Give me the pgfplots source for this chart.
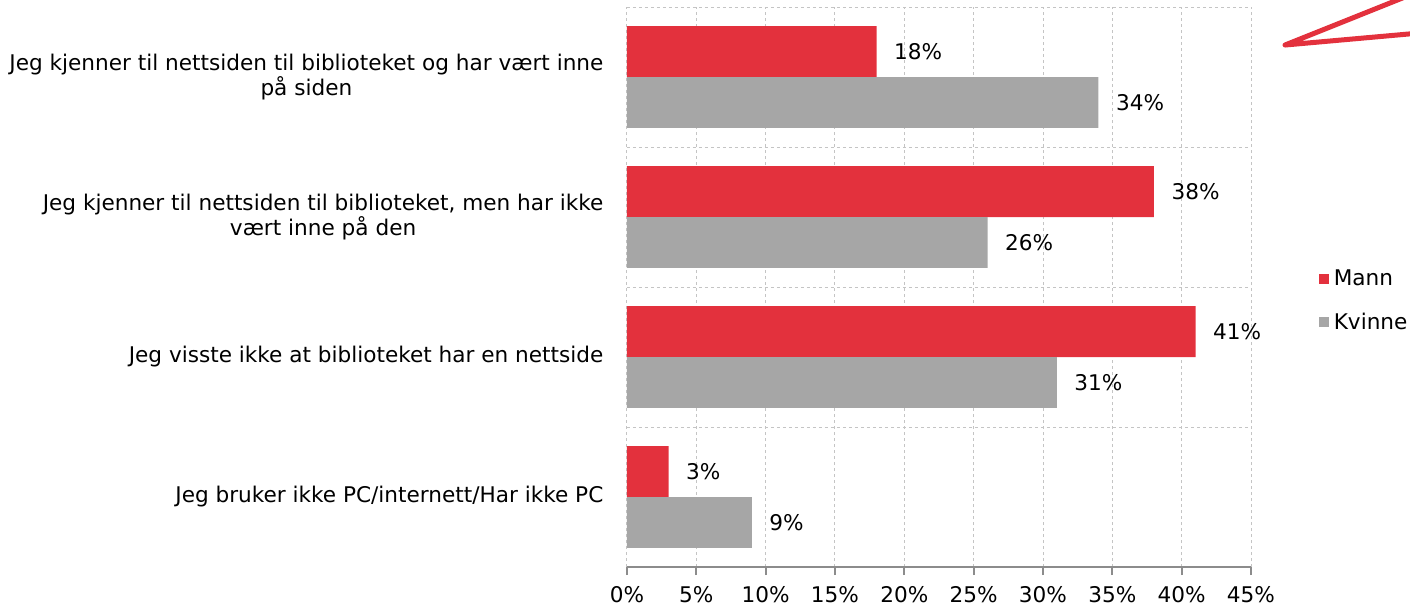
\documentclass[border=0pt]{standalone}
\usepackage{pgfplots}
\pgfplotsset{compat=1.18}
\usepackage{fontspec}
\setmainfont{DejaVu Sans}
\definecolor{mred}{HTML}{E3313D}
\definecolor{mgray}{HTML}{A6A6A6}
\definecolor{gridc}{HTML}{C4C4C4}
\definecolor{axc}{HTML}{8C8C8C}
\newcommand{\chf}{\fontsize{10.8}{12.3}\selectfont}
\begin{document}
\chf
\begin{tikzpicture}
\begin{axis}[
  scale only axis, width=312pt, height=280pt,
  xbar, bar width=0.364,
  xmin=0, xmax=45, ymin=-0.5, ymax=3.5,
  xtick={0,5,...,45},
  xticklabel={\pgfmathprintnumber{\tick}\%},
  /pgf/number format/assume math mode=true,
  ytick={0,1,2,3},
  yticklabels={Jeg bruker ikke PC/internett/Har ikke PC, Jeg visste ikke at biblioteket har en nettside, {Jeg kjenner til nettsiden til biblioteket, men har ikke\\vært inne på den}, {Jeg kjenner til nettsiden til biblioteket og har vært inne\\på siden}},
  yticklabel style={align=center, font=\chf, xshift=-4pt},
  xticklabel style={font=\chf, yshift=-2pt},
  minor ytick={0.5,1.5,2.5,3.5},
  yminorgrids=true, xmajorgrids=true,
  grid style={gridc, line width=0.5pt, dash pattern=on 1.5pt off 1.5pt},
  minor grid style={gridc, line width=0.5pt, dash pattern=on 1.5pt off 1.5pt},
  axis x line*=bottom, axis y line*=left,
  x axis line style={-, axc, line width=1pt},
  y axis line style={draw=none},
  tick align=outside,
  xtick style={axc, line width=1pt},
  major tick length=4pt, minor tick length=0pt,
  ytick style={draw=none},
  nodes near coords={\pgfmathprintnumber{\pgfplotspointmeta}\%},
  nodes near coords style={anchor=west, xshift=5pt, font=\chf, black},
  legend style={at={(rel axis cs:1.108,0.475)}, anchor=west, draw=none, fill=none,
    font=\chf, row sep=8pt, inner sep=0pt,
    nodes={inner xsep=2.5pt}},
  legend cell align=left,
  clip=false,
]
\addplot[fill=mred, draw=none, bar shift=0.182,
  legend image code/.code={\fill[mred] (0pt,-2.5pt) rectangle (5pt,2.5pt);}]
  coordinates {(18,3) (38,2) (41,1) (3,0)};
\addlegendentry{Mann}
\addplot[fill=mgray, draw=none, bar shift=-0.182,
  legend image code/.code={\fill[mgray] (0pt,-2.5pt) rectangle (5pt,2.5pt);}]
  coordinates {(34,3) (26,2) (31,1) (9,0)};
\addlegendentry{Kvinne}
\coordinate (BL) at (rel axis cs:-1.00481,-0.06964);
\coordinate (TR) at (rel axis cs:1.25481,1.0125);
\coordinate (D0) at (rel axis cs:1.0545,0.9321);
\coordinate (D1) at (rel axis cs:1.2708,1.0286);
\coordinate (D2) at (rel axis cs:1.2708,0.9536);
\end{axis}
\draw[overlay, mred, line width=2.5pt, line cap=round, line join=round] (D1) -- (D0) -- (D2);
\pgfresetboundingbox
\path[use as bounding box] (BL) rectangle (TR);
\end{tikzpicture}
\end{document}
